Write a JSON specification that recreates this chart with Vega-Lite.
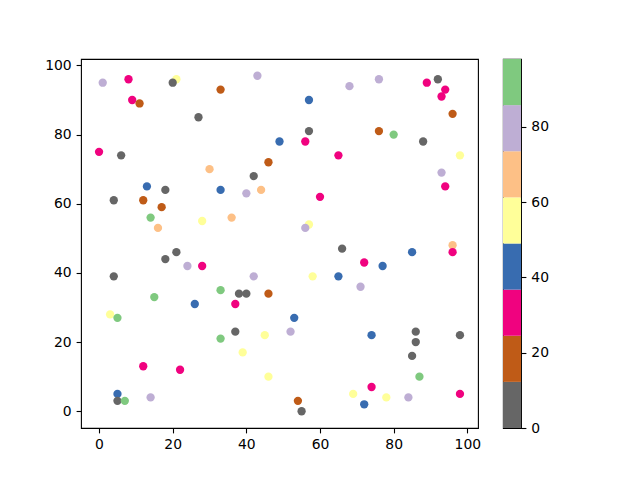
{
  "$schema": "https://vega.github.io/schema/vega-lite/v6.json",
  "background": "white",
  "padding": {"left": 44, "top": 57, "right": 5, "bottom": 5},
  "spacing": 20,
  "resolve": {"scale": {"color": "shared"}},
  "config": {
    "view": {"stroke": "black", "strokeWidth": 1.1},
    "axis": {
      "grid": false, "domain": false, "tickColor": "black", "tickSize": 4.9, "tickWidth": 1.1,
      "labelPadding": 4.9, "labelFont": "DejaVu Sans", "labelFontSize": 13.9, "labelColor": "black",
      "title": null, "labelFlush": false, "labelOverlap": false
    }
  },
  "datasets": {
    "pts": [
      {"x": 1, "y": 95, "v": 80}, {"x": 8, "y": 96, "v": 30}, {"x": 21, "y": 96, "v": 55}, {"x": 20, "y": 95, "v": 5},
      {"x": 43, "y": 97, "v": 81}, {"x": 9, "y": 90, "v": 31}, {"x": 11, "y": 89, "v": 18}, {"x": 33, "y": 93, "v": 19},
      {"x": 27, "y": 85, "v": 6}, {"x": 0, "y": 75, "v": 29}, {"x": 6, "y": 74, "v": 4}, {"x": 49, "y": 78, "v": 43},
      {"x": 46, "y": 72, "v": 17}, {"x": 30, "y": 70, "v": 67}, {"x": 42, "y": 68, "v": 7}, {"x": 13, "y": 65, "v": 42},
      {"x": 18, "y": 64, "v": 3}, {"x": 33, "y": 64, "v": 44}, {"x": 40, "y": 63, "v": 79}, {"x": 44, "y": 64, "v": 68},
      {"x": 4, "y": 61, "v": 8}, {"x": 12, "y": 61, "v": 20}, {"x": 17, "y": 59, "v": 16}, {"x": 14, "y": 56, "v": 92},
      {"x": 28, "y": 55, "v": 56}, {"x": 36, "y": 56, "v": 66}, {"x": 16, "y": 53, "v": 69}, {"x": 68, "y": 94, "v": 82},
      {"x": 76, "y": 96, "v": 78}, {"x": 89, "y": 95, "v": 32}, {"x": 92, "y": 96, "v": 2}, {"x": 94, "y": 93, "v": 28},
      {"x": 93, "y": 91, "v": 33}, {"x": 96, "y": 86, "v": 21}, {"x": 57, "y": 90, "v": 41}, {"x": 57, "y": 81, "v": 9},
      {"x": 76, "y": 81, "v": 15}, {"x": 80, "y": 80, "v": 93}, {"x": 88, "y": 78, "v": 1}, {"x": 56, "y": 78, "v": 27},
      {"x": 65, "y": 74, "v": 34}, {"x": 98, "y": 74, "v": 57}, {"x": 93, "y": 69, "v": 83}, {"x": 94, "y": 65, "v": 26},
      {"x": 60, "y": 62, "v": 30}, {"x": 57, "y": 54, "v": 54}, {"x": 56, "y": 53, "v": 77}, {"x": 21, "y": 46, "v": 10},
      {"x": 18, "y": 44, "v": 5}, {"x": 24, "y": 42, "v": 84}, {"x": 28, "y": 42, "v": 31}, {"x": 4, "y": 39, "v": 6},
      {"x": 42, "y": 39, "v": 80}, {"x": 33, "y": 35, "v": 95}, {"x": 38, "y": 34, "v": 4}, {"x": 40, "y": 34, "v": 11},
      {"x": 46, "y": 34, "v": 22}, {"x": 15, "y": 33, "v": 90}, {"x": 26, "y": 31, "v": 45}, {"x": 37, "y": 31, "v": 35},
      {"x": 3, "y": 28, "v": 52}, {"x": 5, "y": 27, "v": 89}, {"x": 37, "y": 23, "v": 0}, {"x": 33, "y": 21, "v": 94},
      {"x": 45, "y": 22, "v": 58}, {"x": 39, "y": 17, "v": 53}, {"x": 46, "y": 10, "v": 60}, {"x": 12, "y": 13, "v": 25},
      {"x": 22, "y": 12, "v": 33}, {"x": 5, "y": 5, "v": 40}, {"x": 5, "y": 3, "v": 7}, {"x": 7, "y": 3, "v": 96},
      {"x": 14, "y": 4, "v": 76}, {"x": 66, "y": 47, "v": 3}, {"x": 96, "y": 48, "v": 70}, {"x": 96, "y": 46, "v": 29},
      {"x": 85, "y": 46, "v": 46}, {"x": 72, "y": 43, "v": 27}, {"x": 77, "y": 42, "v": 39}, {"x": 58, "y": 39, "v": 51},
      {"x": 65, "y": 39, "v": 47}, {"x": 71, "y": 36, "v": 85}, {"x": 53, "y": 27, "v": 42}, {"x": 52, "y": 23, "v": 81},
      {"x": 74, "y": 22, "v": 38}, {"x": 86, "y": 23, "v": 9}, {"x": 86, "y": 20, "v": 2}, {"x": 85, "y": 16, "v": 8},
      {"x": 98, "y": 22, "v": 5}, {"x": 87, "y": 10, "v": 98}, {"x": 74, "y": 7, "v": 32}, {"x": 69, "y": 5, "v": 59},
      {"x": 78, "y": 4, "v": 50}, {"x": 84, "y": 4, "v": 79}, {"x": 98, "y": 5, "v": 26}, {"x": 72, "y": 2, "v": 44},
      {"x": 54, "y": 3, "v": 14}, {"x": 55, "y": 0, "v": 6}
    ],
    "bar": [
      {"lo": 0, "hi": 12.25, "mid": 6.1}, {"lo": 12.25, "hi": 24.5, "mid": 18.4},
      {"lo": 24.5, "hi": 36.75, "mid": 30.6}, {"lo": 36.75, "hi": 49, "mid": 42.9},
      {"lo": 49, "hi": 61.25, "mid": 55.1}, {"lo": 61.25, "hi": 73.5, "mid": 67.4},
      {"lo": 73.5, "hi": 85.75, "mid": 79.6}, {"lo": 85.75, "hi": 98, "mid": 91.9}
    ]
  },
  "hconcat": [
    {
      "width": 397, "height": 369,
      "data": {"name": "pts"},
      "mark": {"type": "circle", "size": 69, "opacity": 1, "strokeWidth": 0},
      "encoding": {
        "x": {"field": "x", "type": "quantitative", "scale": {"domain": [-4.9, 102.9], "nice": false, "zero": false},
              "axis": {"values": [0, 20, 40, 60, 80, 100]}},
        "y": {"field": "y", "type": "quantitative", "scale": {"domain": [-4.85, 101.85], "nice": false, "zero": false},
              "axis": {"values": [0, 20, 40, 60, 80, 100]}},
        "color": {"field": "v", "type": "quantitative",
                  "scale": {"type": "quantize", "domain": [0, 98], "nice": false,
                            "range": ["#666666", "#bf5b17", "#f0027f", "#386cb0", "#ffff99", "#fdc086", "#beaed4", "#7fc97f"]},
                  "legend": null}
      }
    },
    {
      "width": 18, "height": 369,
      "data": {"name": "bar"},
      "mark": {"type": "rect"},
      "encoding": {
        "y": {"field": "lo", "type": "quantitative", "scale": {"domain": [0, 98], "nice": false, "zero": false},
              "axis": {"orient": "right", "values": [0, 20, 40, 60, 80]}},
        "y2": {"field": "hi"},
        "color": {"field": "mid", "type": "quantitative",
                  "scale": {"type": "quantize", "domain": [0, 98], "nice": false,
                            "range": ["#666666", "#bf5b17", "#f0027f", "#386cb0", "#ffff99", "#fdc086", "#beaed4", "#7fc97f"]},
                  "legend": null}
      }
    }
  ]
}
